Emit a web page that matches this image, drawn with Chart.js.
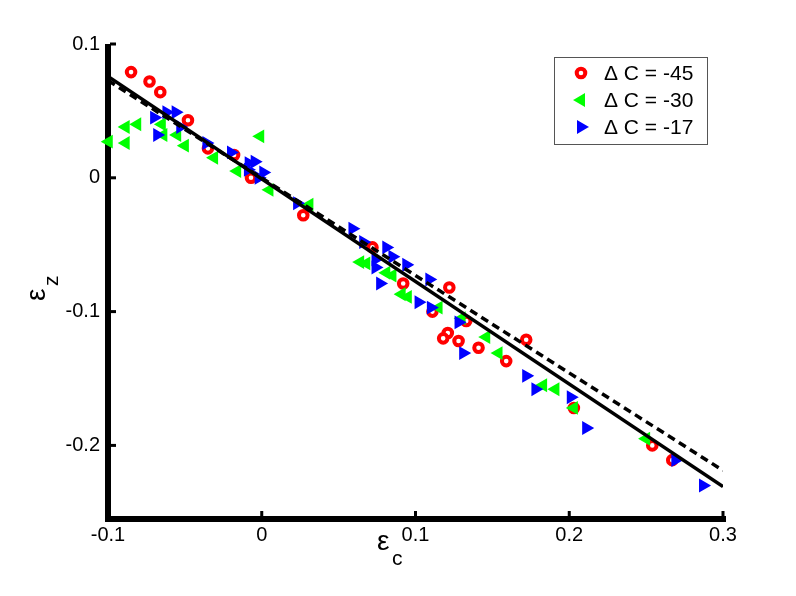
<!DOCTYPE html>
<html>
<head>
<meta charset="utf-8">
<script src="https://cdn.jsdelivr.net/npm/chart.js@4.4.1/dist/chart.umd.min.js"></script>
<style>
html, body { margin: 0; padding: 0; background: #fff; }
#wrap { width: 796px; height: 596px; }
</style>
</head>
<body>
<div id="wrap"><canvas id="chart"></canvas></div>
<script>
// legend labels
const seriesLabels = ["\u0394 C = -45", "\u0394 C = -30", "\u0394 C = -17"];

// dC = -45 (red circles)
const redX = [-0.085, -0.073, -0.066, -0.048, -0.035, -0.018, -0.007, 0.027, 0.072, 0.092, 0.122, 0.111, 0.121, 0.118, 0.128, 0.141, 0.159, 0.172, 0.133, 0.203, 0.254, 0.267];
const redY = [0.079, 0.072, 0.064, 0.043, 0.022, 0.017, 0.000, -0.028, -0.052, -0.079, -0.082, -0.100, -0.116, -0.120, -0.122, -0.127, -0.137, -0.121, -0.107, -0.172, -0.200, -0.211];

// dC = -30 (green triangles)
const greenX = [-0.0995, -0.0885, -0.081, -0.0885, -0.065, -0.064, -0.055, -0.050, -0.031, -0.016, -0.001, 0.005, 0.031, 0.064, 0.068, 0.081, 0.085, 0.091, 0.095, 0.115, 0.130, 0.146, 0.154, 0.183, 0.191, 0.203, 0.250];
const greenY = [0.027, 0.038, 0.040, 0.026, 0.040, 0.032, 0.032, 0.024, 0.015, 0.005, 0.031, -0.009, -0.020, -0.063, -0.064, -0.071, -0.073, -0.087, -0.089, -0.097, -0.105, -0.119, -0.131, -0.155, -0.158, -0.172, -0.195];

// dC = -17 (blue triangles)
const blueX = [-0.070, -0.068, -0.062, -0.056, -0.053, -0.036, -0.020, -0.0085, -0.0046, -0.009, 0.001, -0.002, 0.023, 0.059, 0.066, 0.081, 0.085, 0.094, 0.074, 0.074, 0.077, 0.109, 0.102, 0.110, 0.128, 0.131, 0.172, 0.178, 0.201, 0.211, 0.269, 0.287];
const blueY = [0.045, 0.032, 0.049, 0.049, 0.038, 0.026, 0.019, 0.011, 0.012, 0.006, 0.004, 0.000, -0.019, -0.038, -0.048, -0.052, -0.059, -0.065, -0.061, -0.067, -0.079, -0.076, -0.093, -0.097, -0.108, -0.131, -0.148, -0.158, -0.164, -0.187, -0.211, -0.230];

// fit lines
const fitX = [-0.1, 0.3];
const solidFitY = [0.0757, -0.2307];
const dashedFitY = [0.0727, -0.2187];

const xTicks = [-0.1, 0, 0.1, 0.2, 0.3];
const yTicks = [-0.2, -0.1, 0, 0.1];

const FONT = "'Liberation Sans', Arial, sans-serif";

function pts(xs, ys) {
    return xs.map((x, i) => ({ x: x, y: ys[i] }));
}

const matlabAxes = {
    id: "matlabAxes",
    beforeDatasetsDraw(chart) {
        const ctx = chart.ctx;
        const a = chart.chartArea;
        const sx = chart.scales.x, sy = chart.scales.y;
        ctx.save();
        ctx.fillStyle = "#000";
        ctx.fillRect(a.left - 3, a.top, 6, a.bottom - a.top + 3);
        ctx.fillRect(a.left - 3, a.bottom - 3, a.right - a.left + 6, 6);
        xTicks.forEach(v => {
            const p = sx.getPixelForValue(v);
            ctx.fillRect(p - 1.5, a.bottom - 8, 3, 6);
        });
        yTicks.forEach(v => {
            const p = sy.getPixelForValue(v);
            ctx.fillRect(a.left + 2, p - 1.5, 6, 3);
        });
        ctx.restore();
    },
    afterDraw(chart) {
        const ctx = chart.ctx;
        ctx.save();
        // legend box
        ctx.fillStyle = "#fff";
        ctx.fillRect(554, 57, 153, 87);
        ctx.strokeStyle = "#555";
        ctx.lineWidth = 1;
        ctx.strokeRect(554.5, 57.5, 153, 87);
        const rowsY = [73, 100, 127];
        chart.data.datasets.slice(0, 3).forEach((ds, i) => {
            const opts = {
                pointStyle: ds.pointStyle,
                radius: ds.pointRadius,
                rotation: ds.pointRotation || 0,
                borderWidth: ds.borderWidth
            };
            ctx.fillStyle = ds.backgroundColor;
            ctx.strokeStyle = ds.borderColor;
            ctx.lineWidth = ds.borderWidth;
            Chart.helpers.drawPoint(ctx, opts, 581, rowsY[i]);
            ctx.fillStyle = "#000";
            ctx.font = "21px " + FONT;
            ctx.textBaseline = "middle";
            ctx.textAlign = "left";
            ctx.fillText(seriesLabels[i], 604, rowsY[i] + 1);
        });
        // axis titles
        ctx.fillStyle = "#000";
        ctx.textAlign = "left";
        ctx.textBaseline = "alphabetic";
        ctx.font = "28px " + FONT;
        ctx.fillText("\u03b5", 377, 550);
        ctx.font = "21px " + FONT;
        ctx.fillText("c", 392, 565);
        ctx.translate(45, 301);
        ctx.rotate(-Math.PI / 2);
        ctx.font = "28px " + FONT;
        ctx.fillText("\u03b5", 0, 0);
        ctx.font = "21px " + FONT;
        ctx.fillText("z", 15, 13);
        ctx.restore();
    }
};

new Chart(document.getElementById("chart").getContext("2d"), {
    type: "scatter",
    data: {
        datasets: [
            {
                label: seriesLabels[0],
                data: pts(redX, redY),
                pointStyle: "circle",
                pointRadius: 4.3,
                borderWidth: 4,
                backgroundColor: "#ffffff",
                borderColor: "#ff0000",
                order: 3,
                clip: false
            },
            {
                label: seriesLabels[1],
                data: pts(greenX, greenY),
                pointStyle: "triangle",
                pointRotation: -90,
                pointRadius: 6,
                borderWidth: 2,
                backgroundColor: "#00ff00",
                borderColor: "#00ff00",
                order: 2,
                clip: false
            },
            {
                label: seriesLabels[2],
                data: pts(blueX, blueY),
                pointStyle: "triangle",
                pointRotation: 90,
                pointRadius: 6,
                borderWidth: 2,
                backgroundColor: "#0000ff",
                borderColor: "#0000ff",
                order: 1,
                clip: false
            },
            {
                type: "line",
                label: "fit",
                data: pts(fitX, solidFitY),
                borderColor: "#000",
                borderWidth: 3.5,
                pointRadius: 0,
                order: 0
            },
            {
                type: "line",
                label: "fit dashed",
                data: pts(fitX, dashedFitY),
                borderColor: "#000",
                borderWidth: 3.5,
                borderDash: [8, 5],
                pointRadius: 0,
                order: 0
            }
        ]
    },
    options: {
        responsive: true,
        maintainAspectRatio: false,
        animation: false,
        layout: { padding: { top: 44, right: 73, left: 0, bottom: 0 } },
        plugins: {
            legend: { display: false },
            tooltip: { enabled: false }
        },
        scales: {
            x: {
                type: "linear",
                min: -0.1,
                max: 0.3,
                afterBuildTicks: s => { s.ticks = xTicks.map(v => ({ value: v })); },
                afterFit: s => { s.height = 77; },
                ticks: {
                    color: "#000",
                    padding: 4,
                    maxRotation: 0,
                    font: { family: FONT, size: 20 },
                    callback: v => String(+v.toFixed(1))
                },
                grid: { display: false, drawTicks: false },
                border: { display: false }
            },
            y: {
                type: "linear",
                min: -0.255,
                max: 0.1,
                afterBuildTicks: s => { s.ticks = yTicks.map(v => ({ value: v })); },
                afterFit: s => { s.width = 108; },
                ticks: {
                    color: "#000",
                    padding: 8,
                    font: { family: FONT, size: 20 },
                    callback: v => String(+v.toFixed(1))
                },
                grid: { display: false, drawTicks: false },
                border: { display: false }
            }
        }
    },
    plugins: [matlabAxes]
});
</script>
</body>
</html>
